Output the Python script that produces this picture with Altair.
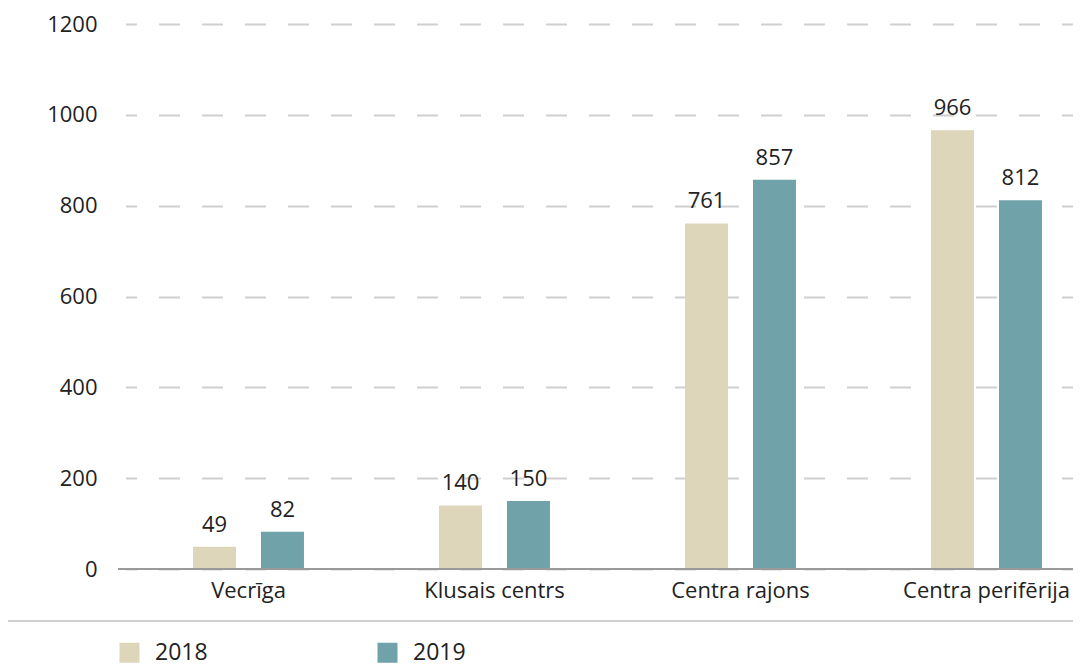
import altair as alt
import pandas as pd

categories = ["Vecrīga", "Klusais centrs", "Centra rajons", "Centra perifērija"]
years = ["2018", "2019"]
values_2018 = [49, 140, 761, 966]
values_2019 = [82, 150, 857, 812]
y_ticks = [0, 200, 400, 600, 800, 1000, 1200]
colors = ["#DDD6BB", "#6FA2A9"]

rows = []
for c, a, b in zip(categories, values_2018, values_2019):
    rows.append({"cat": c, "year": "2018", "value": a})
    rows.append({"cat": c, "year": "2019", "value": b})
df = pd.DataFrame(rows)

FONT = "Open Sans"
FS = 22
W, H = 955, 545

x_enc = alt.X(
    "cat:N", sort=categories, title=None,
    scale=alt.Scale(range=[7.5, 991.5], paddingInner=0.549, paddingOuter=0.2745),
    axis=alt.Axis(labelAngle=0, labelFontSize=FS, labelColor="#222222", labelFont=FONT,
                  labelPadding=11, ticks=False, domain=False, grid=False),
)
xo_enc = alt.XOffset("year:N", scale=alt.Scale(paddingInner=0.368, paddingOuter=0))
y_enc = alt.Y(
    "value:Q", scale=alt.Scale(domain=[0, 1200]), title=None,
    axis=alt.Axis(values=y_ticks, format="d", domain=False, ticks=False, labelPadding=21,
                  labelFontSize=FS, labelColor="#222222", labelFont=FONT,
                  gridColor="#cfcfcf", gridWidth=2, gridDash=[21, 22], gridDashOffset=10),
)
color_enc = alt.Color(
    "year:N", scale=alt.Scale(domain=years, range=colors),
    legend=alt.Legend(orient="none", legendX=0, legendY=617, direction="horizontal",
                      symbolType="square", symbolSize=400, symbolStrokeWidth=0,
                      labelFontSize=23, labelFont=FONT, labelColor="#222222",
                      labelOffset=14, columnPadding=168, title=None),
)

base = alt.Chart(df)
bars = base.mark_bar().encode(x=x_enc, xOffset=xo_enc, y=y_enc, color=color_enc)
labels = base.mark_text(baseline="alphabetic", dy=-15, fontSize=FS, font=FONT,
                        color="#222222").encode(
    x=x_enc, xOffset=xo_enc, y="value:Q", text="value:Q")
axis_line = base.mark_rule(color="#9a9a9a", strokeWidth=2).encode(
    x=alt.value(0), x2=alt.value(W), y=alt.value(H))
sep_line = base.mark_rule(color="#d0d0d0", strokeWidth=2).encode(
    x=alt.value(-110), x2=alt.value(W), y=alt.value(597))

chart = alt.layer(bars, labels, axis_line, sep_line).properties(
    width=W, height=H, autosize="none",
    padding={"left": 110, "top": 16, "right": 0, "bottom": 100},
).configure_view(stroke=None)

chart.save("out.html", embed_options={"renderer": "svg", "actions": False})
